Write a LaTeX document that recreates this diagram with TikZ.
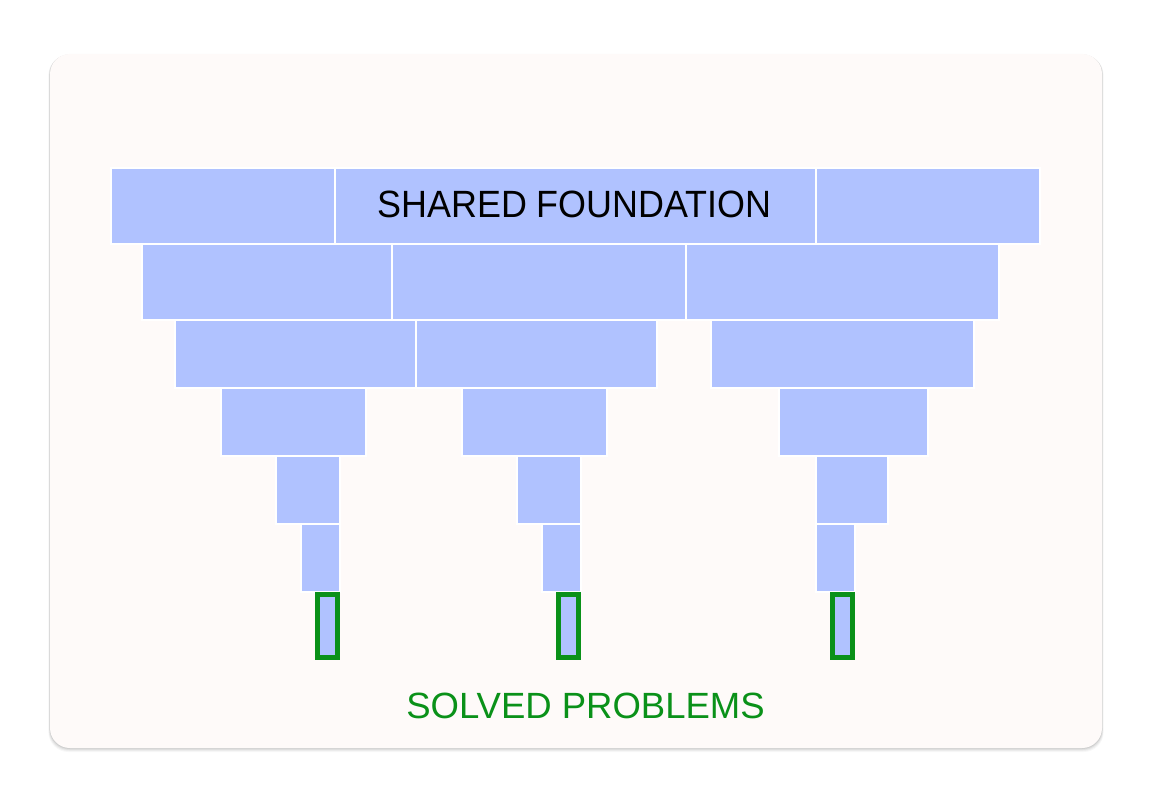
\documentclass[tikz,border=0pt]{standalone}
\usepackage{fontspec}
\setmainfont{Liberation Sans}
\definecolor{cardbg}{RGB}{254,250,249}
\definecolor{blkc}{RGB}{176,194,255}
\definecolor{okgreen}{RGB}{10,145,25}
\begin{document}
\begin{tikzpicture}[x=1pt,y=-1pt,
  layer/.style={fill=blkc, draw=white, line width=2pt},
  solved/.style={fill=blkc, draw=okgreen, line width=5pt},
  card/.style={fill=cardbg, rounded corners=20pt}]
\useasboundingbox[fill=white] (0,0) rectangle (1152,800);
% shadow
\foreach \d/\o in {4/0.03,3/0.04,2/0.05,1/0.07}
  \fill[black, opacity=\o, rounded corners=20pt] (50-\d*0.4,54+\d*0.3) rectangle (1102+\d*0.4,748+\d);
% card
\path[card] (50,54) rectangle (1102,748);
% row 1
\path[layer] (111,168) rectangle (335,244);
\path[layer] (335,168) rectangle (816,244);
\path[layer] (816,168) rectangle (1040,244);
% row 2
\path[layer] (142,244) rectangle (392,320);
\path[layer] (392,244) rectangle (686,320);
\path[layer] (686,244) rectangle (999,320);
% row 3
\path[layer] (175,320) rectangle (416,388);
\path[layer] (416,320) rectangle (657,388);
\path[layer] (711,320) rectangle (974,388);
% row 4
\path[layer] (221,388) rectangle (366,456);
\path[layer] (462,388) rectangle (607,456);
\path[layer] (779,388) rectangle (928,456);
% row 5
\path[layer] (276,456) rectangle (340,524);
\path[layer] (517,456) rectangle (581,524);
\path[layer] (816,456) rectangle (888,524);
% row 6
\path[layer] (301,524) rectangle (340,592);
\path[layer] (542,524) rectangle (581,592);
\path[layer] (816,524) rectangle (855,592);
% solved
\path[solved] (317.5,594.5) rectangle (337.5,657.5);
\path[solved] (558.5,594.5) rectangle (578.5,657.5);
\path[solved] (832.5,594.5) rectangle (852.5,657.5);
% labels
\node[anchor=base, inner sep=0pt, font=\fontsize{38}{44}\selectfont] (found) at (574.5,217.7) {\scalebox{0.945}[1]{SHARED FOUNDATION}};
\node[anchor=base, inner sep=0pt, text=okgreen, font=\fontsize{36.5}{42}\selectfont] (solvedlbl) at (585.5,718) {SOLVED PROBLEMS};
\end{tikzpicture}
\end{document}
